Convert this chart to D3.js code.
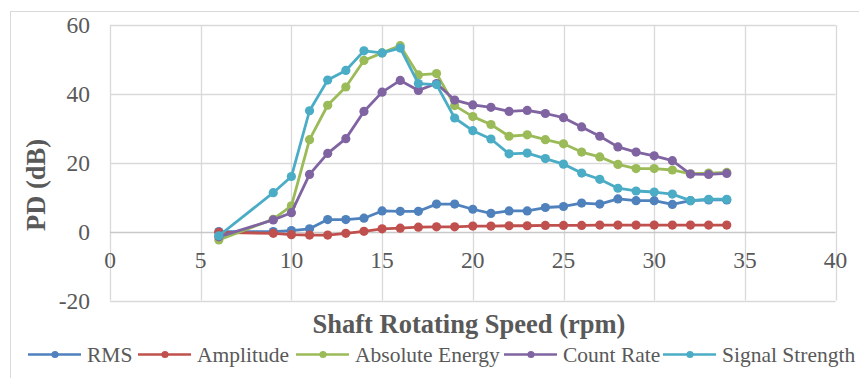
<!DOCTYPE html>
<html><head><meta charset="utf-8">
<script src="https://cdn.jsdelivr.net/npm/d3@7/dist/d3.min.js"></script>
<style>html,body{margin:0;padding:0;background:#fff;}
svg text{font-family:"Liberation Serif","Times New Roman",serif;}</style>
</head><body>
<svg id="chart" width="859" height="378" font-family="Liberation Serif"></svg>
<script>
const speeds = [6,9,10,11,12,13,14,15,16,17,18,19,20,21,22,23,24,25,26,27,28,29,30,31,32,33,34];
const rms = [0.0,0.0,0.3,0.8,3.5,3.5,3.9,6.0,5.9,5.9,8.0,8.0,6.5,5.3,6.0,6.0,7.0,7.3,8.3,8.0,9.5,9.0,9.0,7.9,9.0,9.2,9.2];
const amplitude = [-0.2,-0.5,-0.9,-1.0,-1.0,-0.5,0.1,0.8,1.0,1.3,1.4,1.4,1.6,1.6,1.7,1.7,1.8,1.8,1.8,1.9,1.9,1.9,1.9,1.9,1.9,1.9,1.9];
const absoluteEnergy = [-2.4,3.6,7.5,26.7,36.7,42.0,49.7,51.9,54.0,45.5,45.9,36.6,33.4,31.1,27.7,28.1,26.7,25.5,23.1,21.7,19.5,18.3,18.3,17.9,16.8,17.0,17.2];
const countRate = [-1.5,3.4,5.5,16.6,22.7,27.0,34.9,40.5,43.9,41.0,43.0,38.2,36.8,36.1,34.9,35.2,34.3,33.1,30.4,27.7,24.6,23.1,22.0,20.6,16.7,16.6,16.9];
const signalStrength = [-1.2,11.3,16.0,35.1,44.0,46.8,52.5,51.9,53.3,43.0,42.7,33.0,29.3,26.9,22.6,22.8,21.2,19.6,17.0,15.2,12.6,11.8,11.5,10.9,9.0,9.4,9.4];
const seriesNames = ["RMS","Amplitude","Absolute Energy","Count Rate","Signal Strength"];
const seriesValues = [rms, amplitude, absoluteEnergy, countRate, signalStrength];
const colors = ["#4F81BD","#C0504D","#9BBB59","#8064A2","#4BACC6"];
const xTicks = [0,5,10,15,20,25,30,35,40];
const yTicks = [-20,0,20,40,60];
const xTitle = "Shaft Rotating Speed (rpm)";
const yTitle = "PD (dB)";

const svg = d3.select("#chart");
const x = d3.scaleLinear().domain([0,40]).range([110,835.6]);
const y = d3.scaleLinear().domain([-20,60]).range([300.5,25]);
const textCol = "#595959", gridCol = "#d9d9d9";
const fontName = "Liberation Serif";

// outer chart border
svg.append("rect").attr("x",10.5).attr("y",11.5).attr("width",870).attr("height",380)
  .attr("fill","#fff").attr("stroke",gridCol).attr("stroke-width",1);

// gridlines
const g = svg.append("g");
g.selectAll("line.v").data(xTicks).join("line")
  .attr("x1",d=>Math.round(x(d))+0.5).attr("x2",d=>Math.round(x(d))+0.5)
  .attr("y1",y(60)).attr("y2",y(-20)).attr("stroke",gridCol).attr("stroke-width",1.3);
g.selectAll("line.h").data(yTicks).join("line")
  .attr("y1",d=>Math.round(y(d))+0.5).attr("y2",d=>Math.round(y(d))+0.5)
  .attr("x1",x(0)).attr("x2",x(40)).attr("stroke",d=>d===0?"#c8c8c8":gridCol).attr("stroke-width",1.3);

function stext(parent, tx, ty, str, size, anchor, weight){
  const t = parent.append("text").attr("x", tx).attr("y", ty)
    .attr("text-anchor", anchor)
    .attr("font-family", fontName).style("font-family", fontName)
    .attr("font-size", size).attr("fill", textCol).text(str);
  if (weight) t.attr("font-weight", weight);
  return t;
}

// tick labels
xTicks.forEach(d => stext(svg, x(d), 268, d, 23.5, "middle"));
yTicks.forEach(d => stext(svg, 90, y(d)+8, d, 23.5, "end"));

// axis titles
stext(svg, 469, 333, xTitle, 26.5, "middle", "bold");
stext(svg, 0, 0, yTitle, 26.5, "middle", "bold").attr("transform", "translate(45,185) rotate(-90)");

// series
const line = d3.line().x((d,i)=>x(speeds[i])).y(d=>y(d));
seriesValues.forEach((vals, k) => {
  const sg = svg.append("g");
  sg.append("path").datum(vals).attr("d", line).attr("fill","none")
    .attr("stroke", colors[k]).attr("stroke-width", 2.8).attr("stroke-linejoin","round");
  sg.selectAll("circle").data(vals).join("circle")
    .attr("cx",(d,i)=>x(speeds[i])).attr("cy",d=>y(d)).attr("r",4.6).attr("fill",colors[k]);
});

// legend
const legX = [28, 138, 296, 504, 663];
const lg = svg.append("g");
seriesNames.forEach((name,k) => {
  const lx = legX[k];
  lg.append("line").attr("x1",lx).attr("x2",lx+53).attr("y1",354.5).attr("y2",354.5)
    .attr("stroke",colors[k]).attr("stroke-width",2.6);
  lg.append("circle").attr("cx",lx+27).attr("cy",354.5).attr("r",3.6).attr("fill",colors[k]);
  stext(lg, lx+59, 362, name, 21.5, "start");
});
</script>
</body></html>
